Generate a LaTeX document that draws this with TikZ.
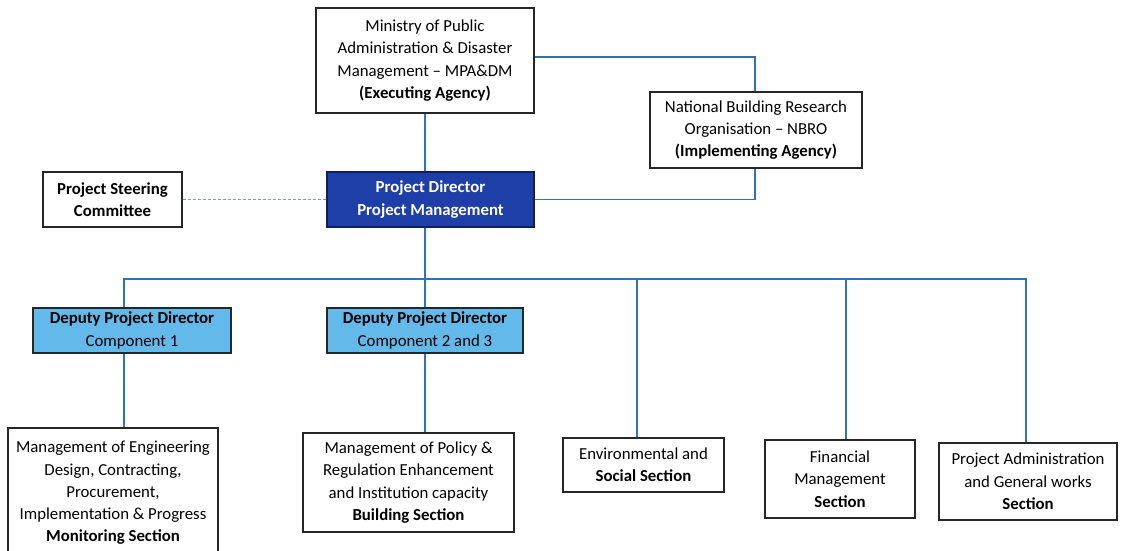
\documentclass[tikz,border=0pt]{standalone}
\usepackage{fontspec}
\setmainfont{Carlito}
\definecolor{linkblue}{HTML}{2E72B8}
\definecolor{pdblue}{HTML}{1E3FA8}
\definecolor{pdedge}{HTML}{0F1F5A}
\definecolor{dpdblue}{HTML}{62B9EA}
\definecolor{faintlink}{HTML}{7E9DB8}
\begin{document}
\begin{tikzpicture}[x=1pt,y=-1pt,
  box/.style={draw=black!85, line width=1.1pt, fill=white, align=center, inner sep=0pt,
    font=\fontsize{16.8}{22.3}\selectfont},
  pdbox/.style={box, draw=pdedge, fill=pdblue, text=white, font=\bfseries\fontsize{16.8}{22.3}\selectfont},
  dpdbox/.style={box, fill=dpdblue},
  link/.style={draw=linkblue, line width=1.1pt},
  faint/.style={draw=faintlink, line width=1pt, densely dashed}
]
\useasboundingbox[fill=white] (0,0) rectangle (1127,551);

% top level agencies
\node[box, minimum width=218, minimum height=105] (min) at (425,60.5)
  {Ministry of Public\\Administration \& Disaster\\Management – MPA\&DM\\\textbf{(Executing Agency)}};
\node[box, minimum width=212, minimum height=76] (nbro) at (756,130)
  {National Building Research\\Organisation – NBRO\\\textbf{(Implementing Agency)}};

% project director and steering committee
\node[pdbox, minimum width=207, minimum height=55] (pd) at (430.5,199.5)
  {Project Director\\Project Management};
\node[box, minimum width=139, minimum height=55] (psc) at (112.5,199.5)
  {\textbf{Project Steering}\\\textbf{Committee}};

% deputy directors
\node[dpdbox, minimum width=198, minimum height=45] (dpd1) at (132,330.5)
  {\textbf{Deputy Project Director}\\Component 1};
\node[dpdbox, minimum width=196, minimum height=45] (dpd2) at (425,330.5)
  {\textbf{Deputy Project Director}\\Component 2 and 3};

% sections
\node[box, minimum width=210, minimum height=130] (eng) at (113,493)
  {Management of Engineering\\Design, Contracting,\\Procurement,\\Implementation \& Progress\\\textbf{Monitoring Section}};
\node[box, minimum width=211, minimum height=99] (pol) at (408.5,482.5)
  {Management of Policy \&\\Regulation Enhancement\\and Institution capacity\\\textbf{Building Section}};
\node[box, minimum width=161, minimum height=54] (env) at (643.5,465)
  {Environmental and\\\textbf{Social Section}};
\node[box, minimum width=150, minimum height=78] (fin) at (840,479)
  {Financial\\Management\\\textbf{Section}};
\node[box, minimum width=178, minimum height=77] (adm) at (1028,481.5)
  {Project Administration\\and General works\\\textbf{Section}};

% connectors
\coordinate (busL) at (124,279);
\coordinate (busR) at (1026,279);
\coordinate (nbroX) at (755,0);

\draw[link] (min.south) -- (min.south |- pd.north);
\draw[link] (min.east |- 0,57) -- (nbroX |- 0,57) -- (nbroX |- nbro.north);
\draw[link] (pd.east) -- (nbroX |- pd.east) -- (nbroX |- nbro.south);
\draw[faint] (psc.east) -- (pd.west);

\draw[link] (min.south |- pd.south) -- (min.south |- busL);
\draw[link] (busL |- dpd1.north) -- (busL) -- (busR) -- (busR |- adm.north);
\draw[link] (min.south |- busL) -- (min.south |- dpd2.north);
\draw[link] (637,279) -- (637,0 |- env.north);
\draw[link] (846,279) -- (846,0 |- fin.north);

\draw[link] (busL |- dpd1.south) -- (busL |- eng.north);
\draw[link] (min.south |- dpd2.south) -- (min.south |- pol.north);
\end{tikzpicture}
\end{document}
